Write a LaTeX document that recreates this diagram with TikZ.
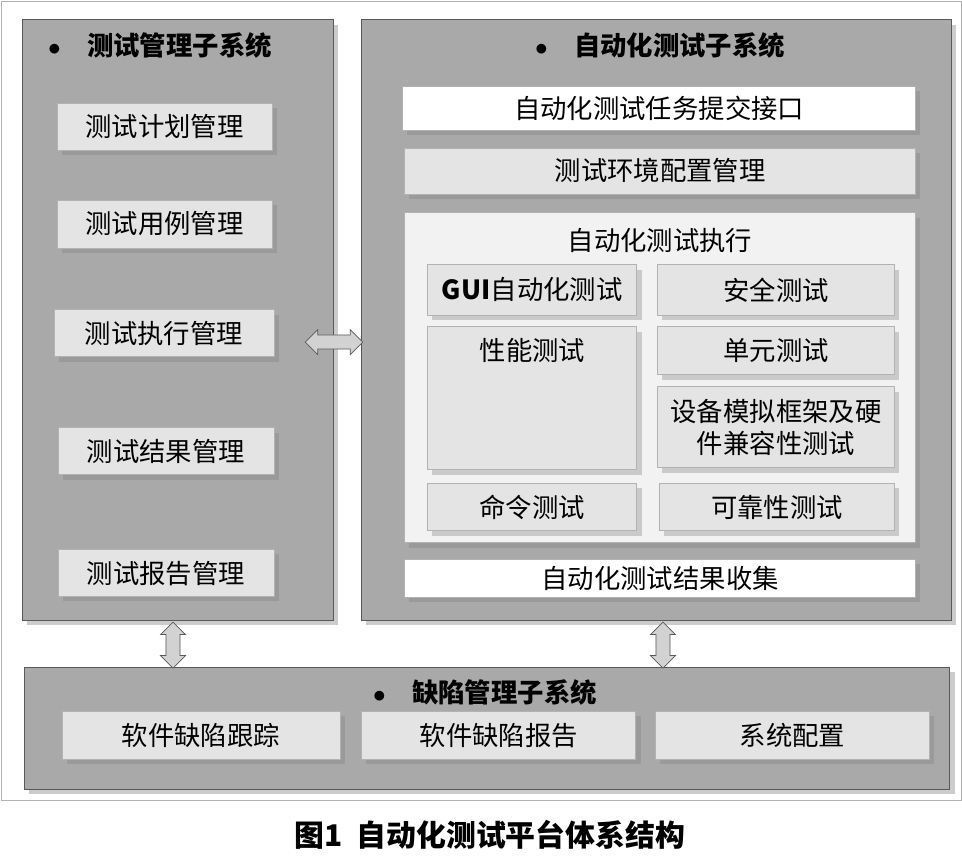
\documentclass[tikz,border=0pt]{standalone}
\usepackage{fontspec}
\setmainfont{Noto Sans CJK SC}
\usetikzlibrary{shadows,arrows.meta,shapes.arrows}

\definecolor{panelgray}{HTML}{A9A9A9}
\definecolor{boxgray}{HTML}{E4E4E4}
\definecolor{execgray}{HTML}{F2F2F2}
\tikzset{
  panel/.style={draw=gray!70!black, fill=panelgray, drop shadow={opacity=0.4}, inner sep=0pt},
  item/.style={draw=gray!60, fill=boxgray, drop shadow={opacity=0.35}, inner sep=0pt, font=\fontsize{15}{18}\selectfont, align=center},
  light/.style={item, fill=white},
  title/.style={font=\fontsize{15}{18}\selectfont\bfseries},
  dbl/.style={draw=gray!70!black, fill=gray!35, double arrow, double arrow head extend=2.5pt, minimum height=#1, minimum width=0.5cm, inner sep=3pt}
}
% box from pixel corners
\newcommand{\pbox}[7]{\node[#1, minimum width={(#5-#3)*0.02cm}, minimum height={(#6-#4)*0.02cm}]
  (#2) at ({(#3+#5)*0.01}, {-(#4+#6)*0.01}) {#7};}

\begin{document}
\begin{tikzpicture}
    \useasboundingbox (0,0) rectangle (19.24,-17.22);
    \draw[gray!60] (0.02,-0.02) rectangle (19.22,-16.0);
    % subsystems
    \pbox{panel}{mgmt}{22}{20}{333}{620}{}
    \pbox{panel}{auto}{362}{20}{952}{620}{}
    \pbox{panel}{defect}{25}{668}{950}{790}{}
    \node[title] (mgmtT) at (3.2,-0.9) {$\bullet$\quad 测试管理子系统};
    \node[title] (autoT) at (13.2,-0.9) {$\bullet$\quad 自动化测试子系统};
    \node[title] (defectT) at (9.7,-13.84) {$\bullet$\quad 缺陷管理子系统};
    % test management
    \pbox{item}{plan}{57}{103}{272}{150}{测试计划管理}
    \pbox{item}{case}{57}{200}{272}{248}{测试用例管理}
    \pbox{item}{exec}{54}{310}{274}{357}{测试执行管理}
    \pbox{item}{result}{58}{428}{274}{475}{测试结果管理}
    \pbox{item}{report}{58}{550}{274}{597}{测试报告管理}
    % automated testing
    \pbox{light}{submit}{403}{86}{916}{130}{自动化测试任务提交接口}
    \pbox{item}{env}{405}{148}{916}{194}{测试环境配置管理}
    \pbox{item, fill=execgray}{run}{405}{213}{916}{543}{}
    \node[font=\fontsize{15}{18}\selectfont] (runT) at (13.2,-4.8) {自动化测试执行};
    \pbox{item}{gui}{428}{265}{637}{315}{\textbf{GUI}自动化测试}
    \pbox{item}{safe}{658}{265}{895}{315}{安全测试}
    \pbox{item}{perf}{428}{327}{637}{470}{}
    \node[font=\fontsize{15}{18}\selectfont] (perfT) at (10.65,-7.0) {性能测试};
    \pbox{item}{unit}{658}{327}{895}{375}{单元测试}
    \pbox{item}{device}{658}{387}{895}{468}{设备模拟框架及硬\\件兼容性测试}
    \pbox{item}{cmd}{428}{484}{637}{531}{命令测试}
    \pbox{item}{rel}{660}{484}{895}{531}{可靠性测试}
    \pbox{light}{collect}{405}{560}{916}{598}{自动化测试结果收集}
    % defect management
    \pbox{item}{track}{62}{712}{340}{760}{软件缺陷跟踪}
    \pbox{item}{dreport}{362}{712}{636}{760}{软件缺陷报告}
    \pbox{item}{config}{656}{712}{930}{760}{系统配置}
    % links
    \node[dbl=1.15cm] (h) at (6.68,-6.84) {};
    \node[dbl=0.92cm, rotate=90] (v1) at (3.46,-12.9) {};
    \node[dbl=0.92cm, rotate=90] (v2) at (13.26,-12.9) {};
    \node[font=\fontsize{17}{20}\selectfont\bfseries] (cap) at (9.8,-16.7) {图1~ 自动化测试平台体系结构};
\end{tikzpicture}
\end{document}
